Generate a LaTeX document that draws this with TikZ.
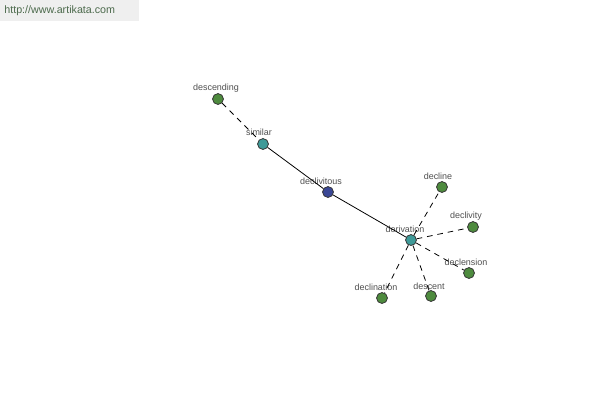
\documentclass[tikz,border=0pt]{standalone}
\usepackage{fontspec}
\setmainfont{Liberation Sans}
\definecolor{leafgreen}{HTML}{4E8B3E}
\definecolor{hubteal}{HTML}{3E9A98}
\definecolor{rootblue}{HTML}{3A4795}
\definecolor{lblgray}{HTML}{505050}
\definecolor{markbg}{HTML}{EFEFEF}
\definecolor{marktext}{HTML}{4C6A4C}
\tikzset{
  word/.style={circle,draw=black!80,line width=0.45pt,inner sep=0pt,minimum size=6.2pt},
  leaf/.style={word,fill=leafgreen},
  hub/.style={word,fill=hubteal},
  root/.style={word,fill=rootblue},
  lbl/.style={text=lblgray,font=\fontsize{5.1}{5.5}\selectfont,inner sep=0pt},
  rel/.style={line width=0.45pt},
  syn/.style={rel,dash pattern=on 3.2pt off 2.8pt}
}
\begin{document}
\begin{tikzpicture}[x=0.02cm,y=-0.02cm]
  \useasboundingbox (0,0) rectangle (600,400);
  % watermark
  \fill[markbg] (0,0) rectangle (139,21);
  \node[text=marktext,font=\fontsize{6.1}{6.5}\selectfont,anchor=west,inner sep=0pt] (site) at (4,11) {http://www.artikata.com};

  % words
  \node[leaf] (descending) at (218,99) {};
  \node[hub]  (similar)    at (263,144) {};
  \node[root] (declivitous) at (328,192) {};
  \node[hub]  (derivation) at (411,240) {};
  \node[leaf] (decline)    at (442,187) {};
  \node[leaf] (declivity)  at (473,227) {};
  \node[leaf] (declension) at (469,273) {};
  \node[leaf] (descent)    at (431,296) {};
  \node[leaf] (declination) at (382,298) {};

  % labels
  \node[lbl] (descending-l)  at (216,88)  {descending};
  \node[lbl] (similar-l)     at (259,132) {similar};
  \node[lbl] (declivitous-l) at (321,181) {declivitous};
  \node[lbl] (derivation-l)  at (405,229) {derivation};
  \node[lbl] (decline-l)     at (438,176) {decline};
  \node[lbl] (declivity-l)   at (466,216) {declivity};
  \node[lbl] (declension-l)  at (466,262) {declension};
  \node[lbl] (descent-l)     at (429,286) {descent};
  \node[lbl] (declination-l) at (376,287) {declination};

  % relations
  \draw[syn] (descending) -- (similar);
  \draw[rel] (similar) -- (declivitous);
  \draw[rel] (declivitous) -- (derivation);
  \foreach \w in {decline,declivity,declension,descent,declination}
    \draw[syn] (derivation) -- (\w);
\end{tikzpicture}
\end{document}
